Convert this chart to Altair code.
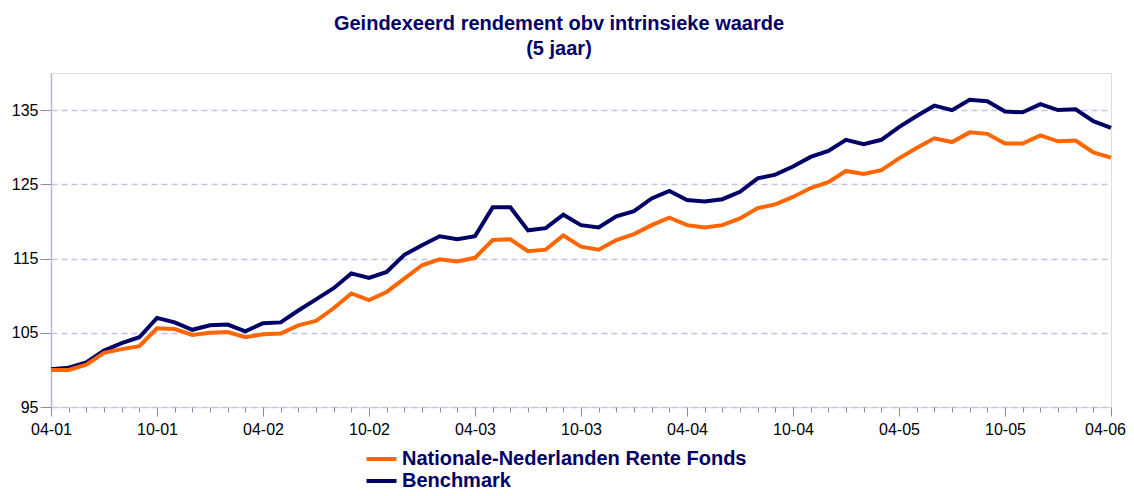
import json
import altair as alt
import pandas as pd

tick_labels = ["04-01", "10-01", "04-02", "10-02", "04-03", "10-03",
               "04-04", "10-04", "04-05", "10-05", "04-06"]

series_names = ["Nationale-Nederlanden Rente Fonds", "Benchmark"]
series_colors = ["#ff6600", "#000066"]

fund = [100.0, 100.0, 100.7, 102.3, 102.8, 103.2, 105.6, 105.5, 104.7, 105.0,
        105.1, 104.4, 104.8, 104.9, 106.0, 106.6, 108.3, 110.3, 109.4,
        110.5, 112.3, 114.1, 114.9, 114.6, 115.1, 117.5, 117.6, 116.0, 116.2,
        118.1, 116.6, 116.2, 117.5, 118.3, 119.5, 120.5, 119.5, 119.2, 119.5, 120.4,
        121.8, 122.3, 123.3, 124.5, 125.3, 126.8, 126.4, 126.9, 128.5, 129.9,
        131.2, 130.7, 132.0, 131.8, 130.5, 130.5, 131.6, 130.8, 130.9, 129.3, 128.6]

bench = [100.1, 100.3, 101.0, 102.6, 103.6, 104.4, 107.0, 106.4, 105.4, 106.0,
         106.1, 105.2, 106.3, 106.4, 108.0, 109.5, 111.0, 113.0, 112.4,
         113.2, 115.5, 116.8, 118.0, 117.6, 118.0, 121.9, 121.9, 118.8, 119.1,
         120.9, 119.5, 119.2, 120.7, 121.4, 123.1, 124.1, 122.9, 122.7, 123.0, 124.0,
         125.8, 126.3, 127.4, 128.7, 129.5, 131.0, 130.4, 131.0, 132.7, 134.2,
         135.6, 135.0, 136.4, 136.2, 134.8, 134.7, 135.8, 135.0, 135.1, 133.5, 132.6]

y_ticks = [95, 105, 115, 125, 135]

months = list(range(len(fund)))
df = pd.DataFrame({
    "m": months + months,
    "v": fund + bench,
    "s": [series_names[0]] * len(fund) + [series_names[1]] * len(bench),
})

label_expr = "datum.value % 6 == 0 ? " + json.dumps(tick_labels) + "[datum.value / 6] : ''"

x_enc = alt.X(
    "m:Q",
    title=None,
    scale=alt.Scale(domain=[0, 60], nice=False, zero=False),
    axis=alt.Axis(
        values=months,
        labelExpr=label_expr,
        tickSize=alt.condition("datum.value % 6 == 0", alt.value(9), alt.value(5)),
        labelOffset=alt.condition("datum.value == 60", alt.value(-6), alt.value(0)),
        tickColor="#8a8aa8",
        tickWidth=1,
        domain=False,
        grid=False,
        labelFlush=False,
        labelOverlap=False,
        labelBound=False,
        labelFont="Liberation Sans",
        labelFontSize=16,
        labelColor="#000000",
        labelPadding=5,
    ),
)

y_enc = alt.Y(
    "v:Q",
    title=None,
    scale=alt.Scale(domain=[95, 140], nice=False, zero=False),
    axis=alt.Axis(
        values=y_ticks,
        grid=True,
        gridColor="#c4c4e2",
        gridDash=[6, 4],
        gridWidth=1.5,
        domainColor="#b4b4dc",
        domainWidth=1.5,
        tickColor="#8a8aa8",
        tickSize=11,
        labelPadding=2,
        labelFont="Liberation Sans",
        labelFontSize=16,
        labelColor="#000000",
    ),
)

color_enc = alt.Color(
    "s:N",
    scale=alt.Scale(domain=series_names, range=series_colors),
    legend=alt.Legend(
        title=None,
        orient="none",
        legendX=320.5,
        legendY=376,
        direction="vertical",
        symbolType="M-2,0H2",
        symbolStrokeWidth=4,
        symbolSize=225,
        labelFont="Liberation Sans",
        labelFontSize=20,
        labelFontWeight="bold",
        labelColor="#000066",
        labelLimit=700,
        labelOffset=10.5,
        rowPadding=2,
        padding=0,
    ),
)

base = alt.Chart(df).encode(x=x_enc, y=y_enc, color=color_enc)

bench_line = base.transform_filter(alt.datum.s == series_names[1]).mark_line(strokeWidth=4)
fund_line = base.transform_filter(alt.datum.s == series_names[0]).mark_line(strokeWidth=4)

chart = alt.layer(bench_line, fund_line).properties(
    width=1060,
    height=334,
    autosize=alt.AutoSizeParams(type="none"),
    padding={"left": 43, "top": 65, "right": 15, "bottom": 81},
    title=alt.TitleParams(
        text=["Geindexeerd rendement obv intrinsieke waarde", "(5 jaar)"],
        font="Liberation Sans",
        fontSize=20,
        fontWeight="bold",
        color="#000066",
        anchor="middle",
        dx=-22,
        offset=14,
        lineHeight=25,
    ),
).configure_view(stroke=None).configure(background="#ffffff")

chart.save("out.html", embed_options={"renderer": "svg", "actions": False})
